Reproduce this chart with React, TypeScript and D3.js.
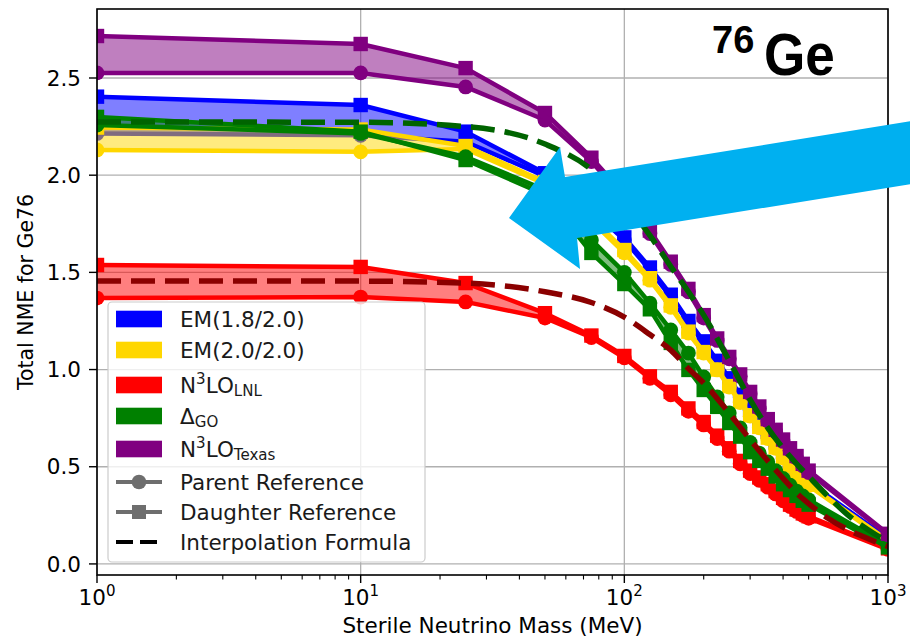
import React, { useRef, useEffect } from 'react';
import * as d3 from 'd3';

// sterile neutrino masses (MeV) where the NMEs were computed
const masses = [1, 10, 25, 50, 75, 100, 125, 150, 175, 200, 225, 250, 275, 300, 325, 350, 375, 400, 425, 450, 475, 500, 1000];

// EM(1.8/2.0)
const em18Daughter = [2.404, 2.361, 2.224, 2.010, 1.840, 1.680, 1.525, 1.385, 1.250, 1.145, 1.045, 0.955, 0.870, 0.800, 0.735, 0.680, 0.625, 0.575, 0.530, 0.490, 0.455, 0.420, 0.130];
const em18Parent = [2.215, 2.205, 2.172, 1.995, 1.820, 1.667, 1.512, 1.373, 1.240, 1.137, 1.034, 0.946, 0.859, 0.792, 0.728, 0.672, 0.617, 0.567, 0.522, 0.482, 0.447, 0.412, 0.125];

// EM(2.0/2.0)
const em20Daughter = [2.245, 2.235, 2.150, 1.965, 1.780, 1.615, 1.470, 1.330, 1.195, 1.090, 1.000, 0.915, 0.835, 0.765, 0.705, 0.650, 0.600, 0.550, 0.510, 0.473, 0.440, 0.408, 0.120];
const em20Parent = [2.130, 2.120, 2.135, 1.955, 1.765, 1.600, 1.460, 1.320, 1.188, 1.085, 0.998, 0.910, 0.830, 0.760, 0.700, 0.645, 0.595, 0.545, 0.505, 0.468, 0.435, 0.403, 0.115];

// N3LO LNL
const lnlDaughter = [1.538, 1.528, 1.445, 1.290, 1.175, 1.070, 0.965, 0.885, 0.800, 0.730, 0.660, 0.595, 0.530, 0.480, 0.445, 0.410, 0.375, 0.340, 0.305, 0.280, 0.260, 0.245, 0.080];
const lnlParent = [1.368, 1.373, 1.348, 1.265, 1.165, 1.060, 0.955, 0.870, 0.785, 0.715, 0.645, 0.580, 0.515, 0.465, 0.430, 0.395, 0.360, 0.325, 0.295, 0.270, 0.250, 0.235, 0.075];

// Delta GO
const goDaughter = [2.300, 2.224, 2.078, 1.900, 1.600, 1.440, 1.310, 1.137, 0.998, 0.895, 0.808, 0.725, 0.655, 0.575, 0.530, 0.490, 0.450, 0.410, 0.380, 0.350, 0.325, 0.305, 0.085];
const goParent = [2.258, 2.215, 2.095, 1.925, 1.667, 1.500, 1.342, 1.204, 1.085, 0.962, 0.859, 0.777, 0.700, 0.625, 0.570, 0.525, 0.480, 0.440, 0.405, 0.375, 0.350, 0.330, 0.095];

// N3LO Texas
const texasDaughter = [2.716, 2.675, 2.551, 2.320, 2.090, 1.900, 1.715, 1.555, 1.415, 1.280, 1.160, 1.065, 0.975, 0.885, 0.810, 0.745, 0.690, 0.640, 0.595, 0.555, 0.515, 0.480, 0.155];
const texasParent = [2.526, 2.526, 2.454, 2.284, 2.070, 1.880, 1.700, 1.540, 1.400, 1.265, 1.150, 1.055, 0.965, 0.875, 0.800, 0.735, 0.680, 0.630, 0.585, 0.545, 0.505, 0.470, 0.150];

// interpolation formula curves
const interpMasses = [1, 10, 25, 50, 75, 100, 125, 150, 175, 200, 250, 300, 350, 400, 450, 500, 600, 700, 800, 900, 1000];
const interpMain = [2.274, 2.272, 2.250, 2.160, 2.030, 1.860, 1.690, 1.530, 1.400, 1.280, 1.045, 0.845, 0.700, 0.595, 0.515, 0.450, 0.340, 0.255, 0.195, 0.150, 0.115];
const interpLnl = [1.456, 1.455, 1.445, 1.400, 1.345, 1.270, 1.180, 1.100, 1.005, 0.930, 0.775, 0.640, 0.530, 0.440, 0.365, 0.310, 0.230, 0.178, 0.142, 0.113, 0.090];

const yTicks = [0, 0.5, 1.0, 1.5, 2.0, 2.5];
const xTicks = [1, 10, 100, 1000];
const xTickExp = ['0', '1', '2', '3'];

type Part = { t: string; k?: 'sup' | 'sub' };

const models = [
    { label: [{ t: 'EM(1.8/2.0)' }] as Part[], color: '#0000ff', parent: em18Parent, daughter: em18Daughter },
    { label: [{ t: 'EM(2.0/2.0)' }] as Part[], color: '#ffd700', parent: em20Parent, daughter: em20Daughter },
    { label: [{ t: 'N' }, { t: '3', k: 'sup' }, { t: 'LO' }, { t: 'LNL', k: 'sub' }] as Part[], color: '#ff0000', parent: lnlParent, daughter: lnlDaughter },
    { label: [{ t: 'Δ' }, { t: 'GO', k: 'sub' }] as Part[], color: '#008000', parent: goParent, daughter: goDaughter },
    { label: [{ t: 'N' }, { t: '3', k: 'sup' }, { t: 'LO' }, { t: 'Texas', k: 'sub' }] as Part[], color: '#800080', parent: texasParent, daughter: texasDaughter },
];

const interps = [
    { color: '#006400', values: interpMain },
    { color: '#8b0000', values: interpLnl },
];

const FONT = 'DejaVu Sans, sans-serif';

function rich(sel: any, parts: Part[], size: number) {
    let shift = 0;
    parts.forEach(p => {
        const target = p.k === 'sup' ? -0.44 * size : p.k === 'sub' ? 0.16 * size : 0;
        sel.append('tspan')
            .attr('dy', target - shift)
            .attr('font-size', p.k ? size * 0.7 : size)
            .text(p.t);
        shift = target;
    });
}

export default function App() {
    const svgRef = useRef<SVGSVGElement>(null);

    useEffect(() => {
        const svg = d3.select(svgRef.current);
        svg.selectAll('*').remove();

        const left = 97, right = 888, top = 9, bottom = 575;

        const x = d3.scaleLog().domain([1, 1000]).range([left, right]);
        const y = d3.scaleLinear().domain([-0.057, 2.855]).range([bottom, top]);

        svg.append('rect').attr('width', 910).attr('height', 637).attr('fill', '#fff');

        svg.append('defs').append('clipPath').attr('id', 'plot-clip')
            .append('rect')
            .attr('x', left).attr('y', top)
            .attr('width', right - left).attr('height', bottom - top);

        // grid
        const grid = svg.append('g').attr('stroke', '#b0b0b0').attr('stroke-width', 1.3);
        grid.selectAll('line.v').data(xTicks).join('line')
            .attr('x1', d => x(d)).attr('x2', d => x(d))
            .attr('y1', top).attr('y2', bottom);
        grid.selectAll('line.h').data(yTicks).join('line')
            .attr('x1', left).attr('x2', right)
            .attr('y1', d => y(d)).attr('y2', d => y(d));

        const plot = svg.append('g').attr('clip-path', 'url(#plot-clip)');

        const rows = (vals: number[]) => vals.map((v, i) => ({ m: masses[i], v }));
        const area = d3.area<{ m: number; p: number; d: number }>()
            .x(d => x(d.m)).y0(d => y(d.p)).y1(d => y(d.d));
        const line = d3.line<{ m: number; v: number }>().x(d => x(d.m)).y(d => y(d.v));

        // each model: parent (circles) and daughter (squares) curves, then its translucent band on top
        models.forEach(md => {
            const par = rows(md.parent);
            const dau = rows(md.daughter);
            plot.append('path').datum(par)
                .attr('fill', 'none').attr('stroke', md.color).attr('stroke-width', 4.5)
                .attr('stroke-linejoin', 'round')
                .attr('d', line);
            plot.append('g').selectAll('circle').data(par).join('circle')
                .attr('cx', d => x(d.m)).attr('cy', d => y(d.v)).attr('r', 7.4)
                .attr('fill', md.color);
            plot.append('path').datum(dau)
                .attr('fill', 'none').attr('stroke', md.color).attr('stroke-width', 4.5)
                .attr('stroke-linejoin', 'round')
                .attr('d', line);
            plot.append('g').selectAll('rect').data(dau).join('rect')
                .attr('x', d => x(d.m) - 7.2).attr('y', d => y(d.v) - 7.2)
                .attr('width', 14.4).attr('height', 14.4)
                .attr('fill', md.color);
            plot.append('path')
                .datum(masses.map((m, i) => ({ m, p: md.parent[i], d: md.daughter[i] })))
                .attr('fill', md.color)
                .attr('fill-opacity', 0.5)
                .attr('stroke', 'none')
                .attr('d', area);
        });

        // interpolation formula
        const smooth = d3.line<number>()
            .x((_, i) => x(interpMasses[i]))
            .y(d => y(d))
            .curve(d3.curveMonotoneX);
        interps.forEach(c => {
            plot.append('path').datum(c.values)
                .attr('fill', 'none').attr('stroke', c.color).attr('stroke-width', 5.5)
                .attr('stroke-dasharray', '24 10')
                .attr('d', smooth);
        });

        // spines
        svg.append('rect')
            .attr('x', left).attr('y', top)
            .attr('width', right - left).attr('height', bottom - top)
            .attr('fill', 'none').attr('stroke', '#000').attr('stroke-width', 1.6);

        // y ticks
        const yAxis = svg.append('g');
        yAxis.selectAll('line').data(yTicks).join('line')
            .attr('x1', left - 8).attr('x2', left)
            .attr('y1', d => y(d)).attr('y2', d => y(d))
            .attr('stroke', '#000').attr('stroke-width', 1.4);
        yAxis.selectAll('text').data(yTicks).join('text')
            .attr('x', left - 16).attr('y', d => y(d)).attr('dy', '0.36em')
            .attr('text-anchor', 'end')
            .attr('font-family', FONT).attr('font-size', 21.5).attr('fill', '#000')
            .text(d => d3.format('.1f')(d));

        // x ticks
        const xAxis = svg.append('g');
        const minor: number[] = [];
        [1, 10, 100].forEach(dec => d3.range(2, 10).forEach(k => minor.push(dec * k)));
        xAxis.selectAll('line.minor').data(minor).join('line')
            .attr('x1', d => x(d)).attr('x2', d => x(d))
            .attr('y1', bottom).attr('y2', bottom + 4.5)
            .attr('stroke', '#000').attr('stroke-width', 1.1);
        xAxis.selectAll('line.major').data(xTicks).join('line')
            .attr('x1', d => x(d)).attr('x2', d => x(d))
            .attr('y1', bottom).attr('y2', bottom + 8)
            .attr('stroke', '#000').attr('stroke-width', 1.4);
        xTicks.forEach((t, i) => {
            const tx = svg.append('text')
                .attr('x', x(t)).attr('y', 605)
                .attr('text-anchor', 'middle')
                .attr('font-family', FONT).attr('fill', '#000');
            rich(tx, [{ t: '10' }, { t: xTickExp[i], k: 'sup' }], 21.5);
        });

        // axis labels
        svg.append('text')
            .attr('x', (left + right) / 2).attr('y', 633)
            .attr('text-anchor', 'middle')
            .attr('font-family', FONT).attr('font-size', 21.5).attr('fill', '#000')
            .text('Sterile Neutrino Mass (MeV)');
        svg.append('text')
            .attr('transform', `translate(33,${(top + bottom) / 2}) rotate(-90)`)
            .attr('text-anchor', 'middle')
            .attr('font-family', FONT).attr('font-size', 20.5).attr('fill', '#000')
            .text('Total NME for Ge76');

        // legend
        const lg = svg.append('g');
        lg.append('rect')
            .attr('x', 108).attr('y', 302).attr('width', 317).attr('height', 260)
            .attr('rx', 4)
            .attr('fill', '#fff').attr('fill-opacity', 0.8)
            .attr('stroke', '#cccccc').attr('stroke-width', 1.2);
        const rowY = [319, 350, 385, 416, 449, 482, 512, 542];
        const hx0 = 116, hx1 = 162, tx = 180;
        models.forEach((md, i) => {
            lg.append('rect')
                .attr('x', hx0).attr('y', rowY[i] - 8.3)
                .attr('width', hx1 - hx0).attr('height', 16.6)
                .attr('fill', md.color);
            const t = lg.append('text').attr('x', tx).attr('y', rowY[i] + 8)
                .attr('font-family', FONT).attr('fill', '#1a1a1a');
            rich(t, md.label, 21.5);
        });
        const refRows = [
            { label: 'Parent Reference', marker: 'circle' },
            { label: 'Daughter Reference', marker: 'square' },
        ];
        refRows.forEach((r, j) => {
            const ry = rowY[models.length + j];
            lg.append('line')
                .attr('x1', hx0).attr('x2', hx1).attr('y1', ry).attr('y2', ry)
                .attr('stroke', '#6e6e6e').attr('stroke-width', 4);
            if (r.marker === 'circle') {
                lg.append('circle').attr('cx', (hx0 + hx1) / 2).attr('cy', ry).attr('r', 7.3).attr('fill', '#6e6e6e');
            } else {
                lg.append('rect').attr('x', (hx0 + hx1) / 2 - 7).attr('y', ry - 7)
                    .attr('width', 14).attr('height', 14).attr('fill', '#6e6e6e');
            }
            lg.append('text').attr('x', tx).attr('y', ry + 8)
                .attr('font-family', FONT).attr('font-size', 21.5).attr('fill', '#1a1a1a')
                .text(r.label);
        });
        const iy = rowY[7];
        lg.append('line')
            .attr('x1', hx0).attr('x2', hx1 - 4).attr('y1', iy).attr('y2', iy)
            .attr('stroke', '#000').attr('stroke-width', 4)
            .attr('stroke-dasharray', '17 7');
        lg.append('text').attr('x', tx).attr('y', iy + 8)
            .attr('font-family', FONT).attr('font-size', 21.5).attr('fill', '#1a1a1a')
            .text('Interpolation Formula');

        // nucleus label
        svg.append('text')
            .attr('x', 712).attr('y', 53)
            .attr('font-family', 'Liberation Sans, Arial, sans-serif')
            .attr('font-weight', 'bold').attr('font-size', 38).attr('fill', '#000')
            .text('76');
        svg.append('text')
            .attr('transform', 'translate(764,75) scale(0.9,1)')
            .attr('font-family', 'Liberation Sans, Arial, sans-serif')
            .attr('font-weight', 'bold').attr('font-size', 59).attr('fill', '#000')
            .text('Ge');

        // annotation arrow
        svg.append('polygon')
            .attr('points', [[912, 121], [565, 177], [560, 147], [509, 218], [580, 269], [577, 238], [912, 184]]
                .map(p => p.join(',')).join(' '))
            .attr('fill', '#00b0f0');
    }, []);

    return <svg ref={svgRef} width={910} height={637} style={{ position: 'absolute', left: 0, top: 0 }} />;
}
